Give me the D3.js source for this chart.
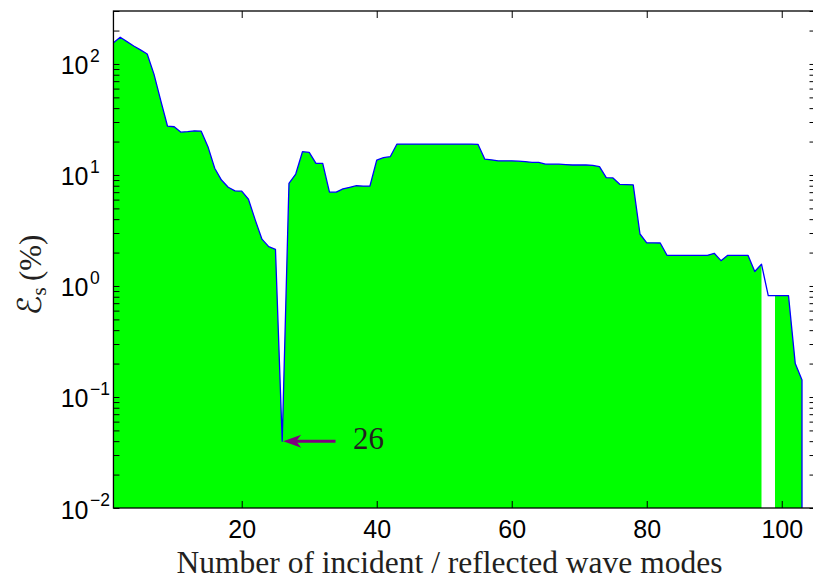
<!DOCTYPE html>
<html><head><meta charset="utf-8">
<script src="https://cdn.jsdelivr.net/npm/d3@7"></script>
<style>body{margin:0;background:#fff}svg{display:block}</style>
</head><body>
<svg id="chart" width="813" height="583"></svg>
<script>
// ---- data ----
const modes = d3.range(1, 104); // number of incident / reflected wave modes: 1..103
const energy = [
  155, 174, 159, 145, 134, 123, 81, 47, 27.6, 27.2,
  24.3, 24.6, 25, 24.8, 18, 11.5, 9.0, 7.75, 7.2, 7.15,
  6.04, 3.94, 2.64, 2.26, 2.14, 0.04, 8.4, 10.2, 16.2, 16.0,
  12.7, 12.7, 7.0, 7.0, 7.5, 7.75, 8.0, 7.95, 7.95, 13.6,
  14.3, 14.6, 19.0, 19.0, 19.0, 19.0, 19.0, 19.0, 19.0, 19.0,
  19.0, 19.0, 19.0, 19.0, 18.9, 13.9, 13.7, 13.4, 13.4, 13.4,
  13.3, 13.2, 12.97, 12.97, 12.5, 12.5, 12.5, 12.4, 12.3, 12.3,
  12.3, 12.2, 11.9, 9.46, 9.4, 8.24, 8.2, 8.15, 2.94, 2.45,
  2.45, 2.44, 1.89, 1.89, 1.89, 1.89, 1.89, 1.89, 1.89, 1.97,
  1.69, 1.89, 1.89, 1.89, 1.89, 1.35, 1.57, 0.82, 0.82, 0.82,
  0.82, 0.20, 0.142
];
const fillSegments = [[1, 97], [99, 103]];   // area fill is missing between modes 97 and 99
const xTicks = [20, 40, 60, 80, 100];
const yTicks = [1e-2, 1e-1, 1e0, 1e1, 1e2];
const yTickExps = ["\u22122", "\u22121", "0", "1", "2"];
const xDomain = [1, 105];
const yDomain = [0.01, 300];
const annotation = { mode: 26, value: 0.04, tailMode: 33.9, labelMode: 36.5, label: "26" };
const xLabel = "Number of incident / reflected wave modes";

// ---- layout ----
const L = 113.45, R = 815.5, T = 11, B = 508;
const svg = d3.select("#chart");
svg.append("rect").attr("width", 813).attr("height", 583).attr("fill", "#fff");

const x = d3.scaleLinear().domain(xDomain).range([L, R]);
const y = d3.scaleLog().domain(yDomain).range([B, T]);

const data = modes.map((m, i) => ({ m, v: energy[i] }));

svg.append("defs").append("clipPath").attr("id", "clip")
  .append("rect").attr("x", L).attr("y", T).attr("width", R - L).attr("height", B - T);

const plot = svg.append("g").attr("clip-path", "url(#clip)");

const area = d3.area().x(d => x(d.m)).y0(y(yDomain[0])).y1(d => y(d.v));
fillSegments.forEach(([a, b]) => {
  plot.append("path")
    .datum(data.filter(d => d.m >= a && d.m <= b))
    .attr("d", area)
    .attr("fill", "#00ff00");
});

const line = d3.line().x(d => x(d.m)).y(d => y(d.v));
const last = data[data.length - 1];
plot.append("path")
  .attr("d", line(data) + "L" + x(last.m) + "," + y(yDomain[0]))
  .attr("fill", "none")
  .attr("stroke", "#0000ff")
  .attr("stroke-width", 1.3)
  .attr("stroke-linejoin", "round");

// ---- axes (ticks inward, box on) ----
const fontSans = "'Liberation Sans', Arial, Helvetica, sans-serif";
const fontSerif = "'Liberation Serif', 'Times New Roman', serif";

const gx = svg.append("g").attr("transform", `translate(0,${B})`)
  .call(d3.axisBottom(x).tickValues(xTicks).tickSize(-7).tickPadding(12).tickFormat(d3.format("d")));
gx.selectAll("text").attr("font-size", 25).attr("font-family", fontSans).attr("fill", "#000");

svg.append("g").attr("transform", `translate(0,${T})`)
  .call(d3.axisTop(x).tickValues(xTicks).tickSize(-7).tickFormat(""));

const allY = y.ticks();
svg.append("g").attr("transform", `translate(${L},0)`)
  .call(d3.axisLeft(y).tickValues(allY).tickSize(-6).tickFormat(""));
svg.append("g").attr("transform", `translate(${R},0)`)
  .call(d3.axisRight(y).tickValues(allY).tickSize(-6).tickFormat(""));

svg.selectAll(".domain").remove();
svg.selectAll(".tick line").attr("stroke", "#000").attr("stroke-width", 1);

// y tick labels 10^n
const yl = svg.append("g");
yTicks.forEach((v, i) => {
  yl.append("text").attr("x", 88.5).attr("y", y(v) + 10.5)
    .attr("text-anchor", "end").attr("font-family", fontSans).attr("font-size", 25)
    .text("10");
  yl.append("text").attr("x", 90).attr("y", y(v) - 2)
    .attr("text-anchor", "start").attr("font-family", fontSans).attr("font-size", 17.5)
    .text(yTickExps[i]);
});

// frame
svg.append("rect").attr("x", L).attr("y", T).attr("width", R - L).attr("height", B - T)
  .attr("fill", "none").attr("stroke", "#000").attr("stroke-width", 1.3);

// x label
svg.append("text").attr("x", 449.5).attr("y", 573)
  .attr("text-anchor", "middle").attr("font-family", fontSerif).attr("font-size", 31.5)
  .attr("textLength", 546).attr("lengthAdjust", "spacingAndGlyphs")
  .attr("fill", "#231f20").text(xLabel);

// y label  E_s (%)
const ylab = svg.append("text")
  .attr("transform", "translate(41,275) rotate(-90)")
  .attr("text-anchor", "middle").attr("fill", "#231f20");
ylab.append("tspan").attr("font-family", "'DejaVu Serif', 'DejaVu Sans', serif").attr("font-size", 33).text("\u2130");
ylab.append("tspan").attr("font-family", fontSerif).attr("font-size", 21).attr("dy", 5).text("s");
ylab.append("tspan").attr("font-family", fontSerif).attr("font-size", 31).attr("dy", -5).text("\u2009(%)");

// annotation arrow
const tipX = x(annotation.mode) + 1, tipY = y(annotation.value);
const tailX = x(annotation.tailMode);
const purple = "#800080";
svg.append("line").attr("x1", tailX).attr("y1", tipY).attr("x2", tipX + 12).attr("y2", tipY)
  .attr("stroke", purple).attr("stroke-width", 3);
svg.append("path")
  .attr("d", `M${tipX},${tipY} L${tipX + 18},${tipY - 6.5} L${tipX + 13},${tipY} L${tipX + 18},${tipY + 6.5} Z`)
  .attr("fill", purple);
svg.append("text").attr("x", x(annotation.labelMode)).attr("y", tipY + 8)
  .attr("font-family", fontSerif).attr("font-size", 31).attr("fill", "#231f20")
  .text(annotation.label);
</script>
</body></html>
